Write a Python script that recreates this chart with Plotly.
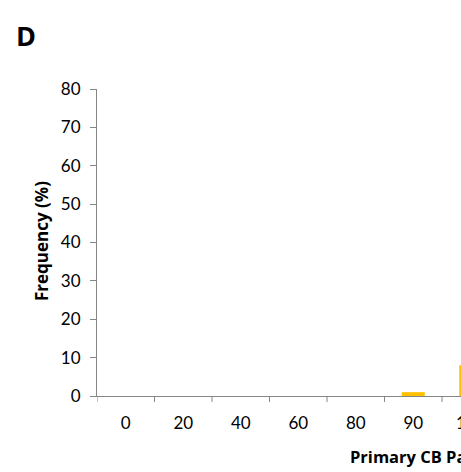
import plotly.graph_objects as go

# Passage frequency distribution (percent of cells per bin)
categories = ["0", "20", "40", "60", "80", "90", "100"]
frequency = [0, 0, 0, 0, 0, 1, 8]
y_ticks = [0, 10, 20, 30, 40, 50, 60, 70, 80]

FONT = "Lato"
TITLE_FONT = "Open Sans"
AXIS_GREY = "#868686"
X_MIN, X_MAX = -0.5, 5.83

fig = go.Figure(
    go.Bar(
        x=list(range(len(categories))),
        y=frequency,
        marker=dict(color="#FFC000", line=dict(width=0)),
        width=0.4,
    )
)

fig.update_layout(
    width=461,
    height=472,
    margin=dict(l=97, r=0, t=89, b=76),
    paper_bgcolor="white",
    plot_bgcolor="white",
    showlegend=False,
    font=dict(family=FONT, size=17, color="#000000"),
)

fig.update_xaxes(
    type="linear",
    range=[X_MIN, X_MAX],
    tickmode="array",
    tickvals=list(range(len(categories))),
    ticktext=categories,
    ticks="",
    showline=True,
    linecolor=AXIS_GREY,
    linewidth=1,
    showgrid=False,
    zeroline=False,
    ticklabelstandoff=12,
    tickfont=dict(family=FONT, size=17),
)

# boundary tick marks between categories
for b in [i - 0.5 for i in range(len(categories) + 1)]:
    if b <= X_MAX:
        fig.add_shape(
            type="line", xref="x", yref="paper",
            x0=b, x1=b, y0=0, y1=-0.0195,
            line=dict(color=AXIS_GREY, width=1),
        )

fig.update_yaxes(
    range=[0, 80],
    tickvals=y_ticks,
    ticks="outside",
    ticklen=6,
    tickcolor=AXIS_GREY,
    showline=True,
    linecolor=AXIS_GREY,
    linewidth=1,
    showgrid=False,
    zeroline=False,
    ticklabelstandoff=6,
    tickfont=dict(family=FONT, size=17),
)

# label for the last category, which sits past the right edge
last = len(categories) - 1
fig.add_annotation(
    x=(last - X_MIN) / (X_MAX - X_MIN), y=0, xref="paper", yref="paper", yshift=-26,
    text=categories[last], showarrow=False,
    font=dict(family=FONT, size=17), xanchor="center", yanchor="middle",
)

# axis titles and panel letter
fig.add_annotation(
    x=(348 - 97) / 364, y=-(456 - 396) / 307, xref="paper", yref="paper",
    text="<b>Primary CB Passage</b>", showarrow=False,
    font=dict(family=TITLE_FONT, size=16.5), xanchor="left", yanchor="middle",
)
fig.add_annotation(
    x=-(97 - 41) / 364, y=(396 - 241) / 307, xref="paper", yref="paper",
    text="<b>Frequency (%)</b>", showarrow=False, textangle=-90,
    font=dict(family=TITLE_FONT, size=17), xanchor="center", yanchor="middle",
)
fig.add_annotation(
    x=-(97 - 14) / 364, y=(396 - 36) / 307, xref="paper", yref="paper",
    text="<b>D</b>", showarrow=False,
    font=dict(family=TITLE_FONT, size=27), xanchor="left", yanchor="middle",
)

fig.write_html("out.html")
